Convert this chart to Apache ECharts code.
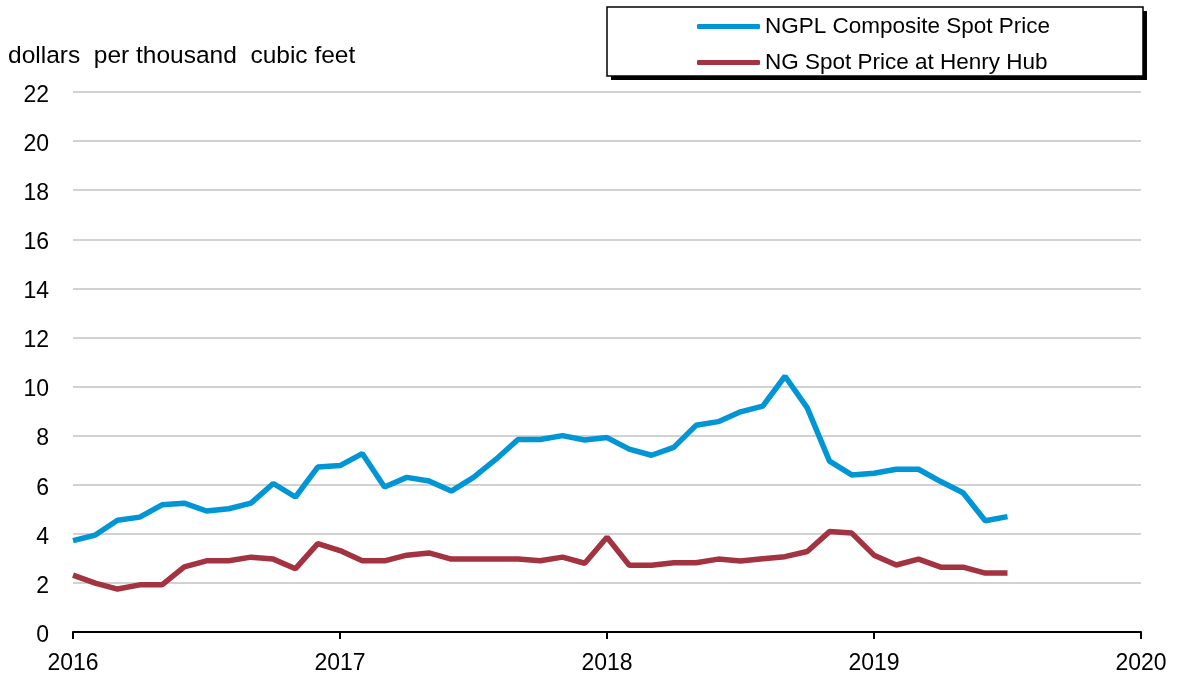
<!DOCTYPE html>
<html><head><meta charset="utf-8">
<script src="https://cdn.jsdelivr.net/npm/echarts@6/dist/echarts.min.js"></script>
<style>html,body{margin:0;padding:0;background:#fff}#c{width:1183px;height:677px}</style>
</head><body><div id="c"></div>
<script>
const months = ["2016-01","2016-02","2016-03","2016-04","2016-05","2016-06","2016-07","2016-08","2016-09","2016-10","2016-11","2016-12",
"2017-01","2017-02","2017-03","2017-04","2017-05","2017-06","2017-07","2017-08","2017-09","2017-10","2017-11","2017-12",
"2018-01","2018-02","2018-03","2018-04","2018-05","2018-06","2018-07","2018-08","2018-09","2018-10","2018-11","2018-12",
"2019-01","2019-02","2019-03","2019-04","2019-05","2019-06","2019-07"];
const ngpl = [3.72,3.95,4.55,4.68,5.18,5.25,4.93,5.02,5.25,6.05,5.5,6.72,
6.78,7.27,5.91,6.3,6.15,5.74,6.3,7.03,7.84,7.84,8.0,7.82,
7.92,7.45,7.2,7.52,8.42,8.57,8.97,9.2,10.42,9.13,6.96,6.4,
6.47,6.63,6.63,6.13,5.67,4.53,4.7];
const henryHub = [2.32,1.99,1.75,1.92,1.92,2.65,2.9,2.9,3.05,2.97,2.58,3.6,
3.32,2.9,2.9,3.13,3.22,2.97,2.97,2.97,2.97,2.9,3.05,2.8,
3.86,2.72,2.72,2.82,2.82,2.97,2.89,2.98,3.07,3.28,4.09,4.03,
3.13,2.73,2.97,2.64,2.64,2.4,2.4];
const seriesNames = ["NGPL Composite Spot Price","NG Spot Price at Henry Hub"];
const yTitle = "dollars  per thousand  cubic feet";
const xMin = 2016, xMax = 2020;

function toX(m){const [y,mo]=m.split("-").map(Number);return y+(mo-1)/12;}
const chart = echarts.init(document.getElementById('c'));
const font = 'Liberation Sans, Arial, sans-serif';
chart.setOption({
  animation:false,
  textStyle:{fontFamily:font},
  title:{text:yTitle,left:3,top:39,textStyle:{fontSize:24.5,fontWeight:'normal',color:'#000',fontFamily:font}},
  graphic:[
    {type:'rect',z:0,shape:{x:611,y:11,width:536,height:69},style:{fill:'#000'}},
    {type:'rect',z:1,shape:{x:607,y:7,width:536,height:69},style:{fill:'#fff',stroke:'#000',lineWidth:1.5}}
  ],
  legend:{z:10,orient:'vertical',left:692,top:10,itemWidth:63,itemHeight:5,itemGap:13,icon:'roundRect',
    data:seriesNames,textStyle:{fontSize:22.5,color:'#000',fontFamily:font}},
  grid:{left:73,right:42,top:92,bottom:45},
  xAxis:{type:'value',min:xMin,max:xMax,interval:1,
    axisLine:{lineStyle:{color:'#000',width:2}},
    axisTick:{show:true,length:7,lineStyle:{color:'#000',width:2}},
    axisLabel:{fontSize:23,color:'#000',margin:20,formatter:v=>String(v)},
    splitLine:{show:false}},
  yAxis:{type:'value',min:0,max:22,interval:2,
    axisLine:{show:false},axisTick:{show:false},
    axisLabel:{color:'#000',margin:24,formatter:v=>'{v|'+v+'}',
      rich:{v:{fontSize:23,color:'#000',fontFamily:font,padding:[7,0,0,0]}}},
    splitLine:{lineStyle:{color:'#c3c3c3',width:1.5}}},
  series:[
    {name:seriesNames[0],type:'line',symbol:'none',color:'#0096d6',lineStyle:{width:5.5,color:'#0096d6'},
      data:months.map((m,i)=>[toX(m),ngpl[i]])},
    {name:seriesNames[1],type:'line',symbol:'none',color:'#a33341',lineStyle:{width:5.5,color:'#a33341'},
      data:months.map((m,i)=>[toX(m),henryHub[i]])}
  ]
});
</script></body></html>
